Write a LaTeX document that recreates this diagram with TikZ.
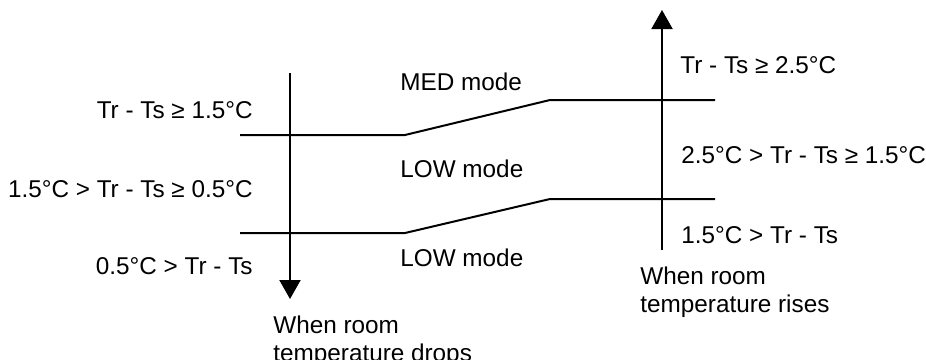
\documentclass[tikz,border=0pt]{standalone}
\usepackage{fontspec}
\setmainfont{Liberation Sans}
\usetikzlibrary{arrows.meta}

\begin{document}
\begin{tikzpicture}[x=0.5pt, y=-0.5pt,
    every node/.style={font=\fontsize{12.15}{14}\selectfont, inner sep=0pt},
    level/.style={line width=1pt},
    trend/.style={line width=1pt, -{Triangle[length=9.5pt, width=10.5pt]}}]
  \useasboundingbox (0,0) rectangle (926,359);
  \clip (0,0) rectangle (926,359);

  \node[anchor=base west, font=\fontsize{12.15}{14}\selectfont\bfseries] (title) at (84,-6) {(Cooling mode)};

  \coordinate (dTop) at (290,73);
  \coordinate (dEnd) at (290,299);
  \coordinate (rBot) at (662,250);
  \coordinate (rEnd) at (662,10);

  \coordinate (u1) at (240,135);
  \coordinate (u2) at (405,135);
  \coordinate (u3) at (550,100);
  \coordinate (u4) at (715,100);
  \coordinate (l1) at (240,233);
  \coordinate (l2) at (405,233);
  \coordinate (l3) at (550,199);
  \coordinate (l4) at (715,199);

  \draw[level] (u1) -- (u2) -- (u3) -- (u4);
  \draw[level] (l1) -- (l2) -- (l3) -- (l4);
  \draw[trend] (dTop) -- (dEnd);
  \draw[trend] (rBot) -- (rEnd);

  \node[anchor=base east] (dropHi) at (253,118) {Tr - Ts ≥ 1.5°C};
  \node[anchor=base east] (dropMid) at (253,197) {1.5°C > Tr - Ts ≥ 0.5°C};
  \node[anchor=base east] (dropLo) at (253,274) {0.5°C > Tr - Ts};

  \node[anchor=base west] (med) at (400,90) {MED mode};
  \node[anchor=base west] (lowA) at (400,177) {LOW mode};
  \node[anchor=base west] (lowB) at (400,266) {LOW mode};

  \node[anchor=base west] (riseHi) at (680,73) {Tr - Ts ≥ 2.5°C};
  \node[anchor=base west] (riseMid) at (681,163) {2.5°C > Tr - Ts ≥ 1.5°C};
  \node[anchor=base west] (riseLo) at (681,243) {1.5°C > Tr - Ts};

  \node[anchor=north west, align=left] (dropNote) at (273,315) {When room\\temperature drops};
  \node[anchor=north west, align=left] (riseNote) at (640,266) {When room\\temperature rises};
\end{tikzpicture}
\end{document}
